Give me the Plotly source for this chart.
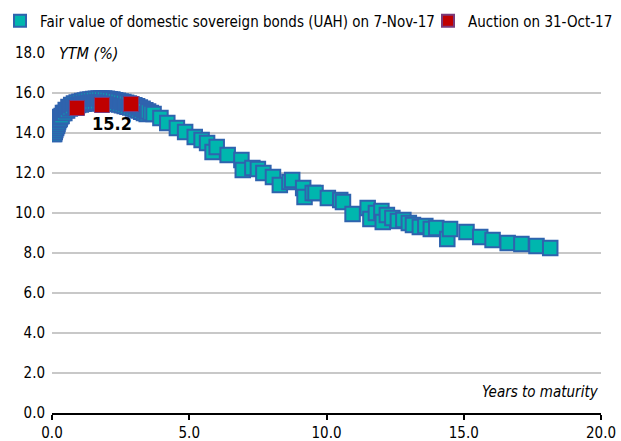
import plotly.graph_objects as go

# Fair value curve: dense short end read as two close strands of the band
fv_x_a = [0.05, 0.1, 0.15, 0.2, 0.25, 0.3, 0.4, 0.5, 0.6, 0.7, 0.8, 0.9, 1.0, 1.1, 1.2, 1.3, 1.4, 1.5, 1.6, 1.7,
          1.8, 1.9, 2.0, 2.1, 2.2, 2.3, 2.4, 2.5, 2.6, 2.7, 2.8, 2.9, 3.0, 3.1, 3.2, 3.3, 3.4, 3.5, 3.6]
fv_y_a = [13.95, 14.05, 14.25, 14.45, 14.65, 14.8, 15.0, 15.15, 15.3, 15.4, 15.47, 15.52, 15.56, 15.6, 15.63, 15.66,
          15.68, 15.7, 15.71, 15.72, 15.72, 15.72, 15.71, 15.69, 15.67, 15.64, 15.61, 15.58, 15.55, 15.51, 15.47,
          15.43, 15.39, 15.34, 15.28, 15.21, 15.14, 15.07, 15.0]
fv_x_b = [0.08, 0.12, 0.18, 0.22, 0.28, 0.35, 0.45, 0.55, 0.65, 0.75, 0.85, 0.95, 1.05, 1.15, 1.25, 1.35, 1.45, 1.55,
          1.65, 1.75, 1.85, 1.95, 2.05, 2.15, 2.25, 2.35, 2.45, 2.55, 2.65, 2.75, 2.85, 2.95, 3.05, 3.15, 3.25, 3.35,
          3.45]
fv_y_b = [13.95, 14.15, 14.35, 14.55, 14.7, 14.85, 15.0, 15.12, 15.22, 15.3, 15.36, 15.4, 15.43, 15.46, 15.48, 15.5,
          15.52, 15.53, 15.54, 15.54, 15.54, 15.53, 15.52, 15.5, 15.48, 15.45, 15.42, 15.39, 15.35, 15.31, 15.27,
          15.23, 15.18, 15.12, 15.06, 15.0, 14.95]
fv_x_long = [3.7, 3.95, 4.2, 4.55, 4.85, 5.2, 5.45, 5.65, 5.85, 6.0, 6.4, 6.9, 6.95, 7.3, 7.5, 7.7, 8.05, 8.3, 8.65,
             8.75, 9.15, 9.2, 9.5, 9.6, 10.05, 10.5, 10.6, 10.95, 11.5, 11.6, 11.8, 12.0, 12.05, 12.2, 12.4, 12.6,
             12.8, 13.0, 13.15, 13.4, 13.6, 13.8, 14.0, 14.4, 14.5, 15.1, 15.6, 16.05, 16.6, 17.1, 17.65, 18.15]
fv_y_long = [14.95, 14.75, 14.5, 14.25, 14.05, 13.8, 13.65, 13.5, 13.05, 13.3, 12.9, 12.65, 12.15, 12.25, 12.2, 12.0,
             11.8, 11.4, 11.55, 11.65, 11.25, 10.8, 11.0, 11.0, 10.75, 10.65, 10.55, 9.95, 10.25, 9.7, 10.0, 10.1,
             9.55, 9.9, 9.75, 9.6, 9.65, 9.5, 9.4, 9.3, 9.35, 9.2, 9.25, 8.7, 9.2, 9.05, 8.8, 8.65, 8.5, 8.45,
             8.35, 8.25]

auction_x = [0.91, 1.82, 2.88]
auction_y = [15.25, 15.4, 15.45]
auction_label = "15.2"

x_ticks = [0, 5, 10, 15, 20]
y_ticks = [0, 2, 4, 6, 8, 10, 12, 14, 16, 18]

FONT = "DejaVu Sans Condensed, Liberation Sans Narrow, Arial Narrow, sans-serif"
TEAL = "#00B6AE"
BLUE = "#2F63AE"
RED = "#C00000"

# interleave the two short-end strands by maturity, then the long end
arc = sorted(zip(fv_x_a + fv_x_b, fv_y_a + fv_y_b))
fv_x = [p[0] for p in arc] + fv_x_long
fv_y = [p[1] for p in arc] + fv_y_long

fig = go.Figure()
fig.add_trace(go.Scatter(
    x=fv_x, y=fv_y, mode="markers",
    name="Fair value of domestic sovereign bonds (UAH) on 7-Nov-17",
    marker=dict(symbol="square", size=14.5, color=TEAL, line=dict(color=BLUE, width=2)),
    legend="legend",
))
fig.add_trace(go.Scatter(
    x=auction_x, y=auction_y, mode="markers",
    name="Auction on 31-Oct-17",
    marker=dict(symbol="square", size=15, color=RED, line=dict(color="#7A3A7A", width=1)),
    legend="legend2",
))

fig.add_annotation(x=auction_x[1] + 0.37, y=auction_y[1] - 0.92, text="<b>" + auction_label + "</b>",
                   showarrow=False, font=dict(family=FONT, size=18, color="black"))
fig.add_annotation(x=0.17, y=18, xref="x", yref="y", text="<i>YTM (%)</i>", showarrow=False,
                   xanchor="left", yanchor="middle", bgcolor="white",
                   font=dict(family=FONT, size=16, color="black"))
fig.add_annotation(x=20, y=1.07, xref="x", yref="y", text="<i>Years to maturity</i>", showarrow=False,
                   xanchor="right", yanchor="middle",
                   font=dict(family=FONT, size=15, color="black"))

leg_common = dict(orientation="h", xref="container", yref="container", xanchor="left", yanchor="middle",
                  font=dict(family=FONT, size=15), itemsizing="constant", bgcolor="rgba(0,0,0,0)",
                  borderwidth=0)

fig.update_layout(
    width=621, height=441,
    margin=dict(l=52, r=20, t=53, b=28, autoexpand=False),
    paper_bgcolor="white", plot_bgcolor="white",
    font=dict(family=FONT, size=15, color="black"),
    showlegend=True,
    legend=dict(x=-0.005, y=1 - 21 / 441, **leg_common),
    legend2=dict(x=(450 - 22) / 621, y=1 - 21 / 441, **leg_common),
    xaxis=dict(range=[0, 20], tickvals=x_ticks, ticktext=[f"{v:.1f}" for v in x_ticks],
               showgrid=False, zeroline=False, showline=True, linecolor="black", linewidth=2,
               ticks="outside", tickcolor="black", tickwidth=2, ticklen=5, fixedrange=True),
    yaxis=dict(range=[0, 18], tickvals=y_ticks, ticktext=[f"{v:.1f}" for v in y_ticks],
               showgrid=True, gridcolor="#C8C8C8", gridwidth=2, zeroline=False, showline=False,
               ticks="", ticklabelstandoff=6),
)

fig.write_html("out.html", config={"displayModeBar": False},
               post_script="document.body.style.margin='0';document.body.style.padding='0';")
